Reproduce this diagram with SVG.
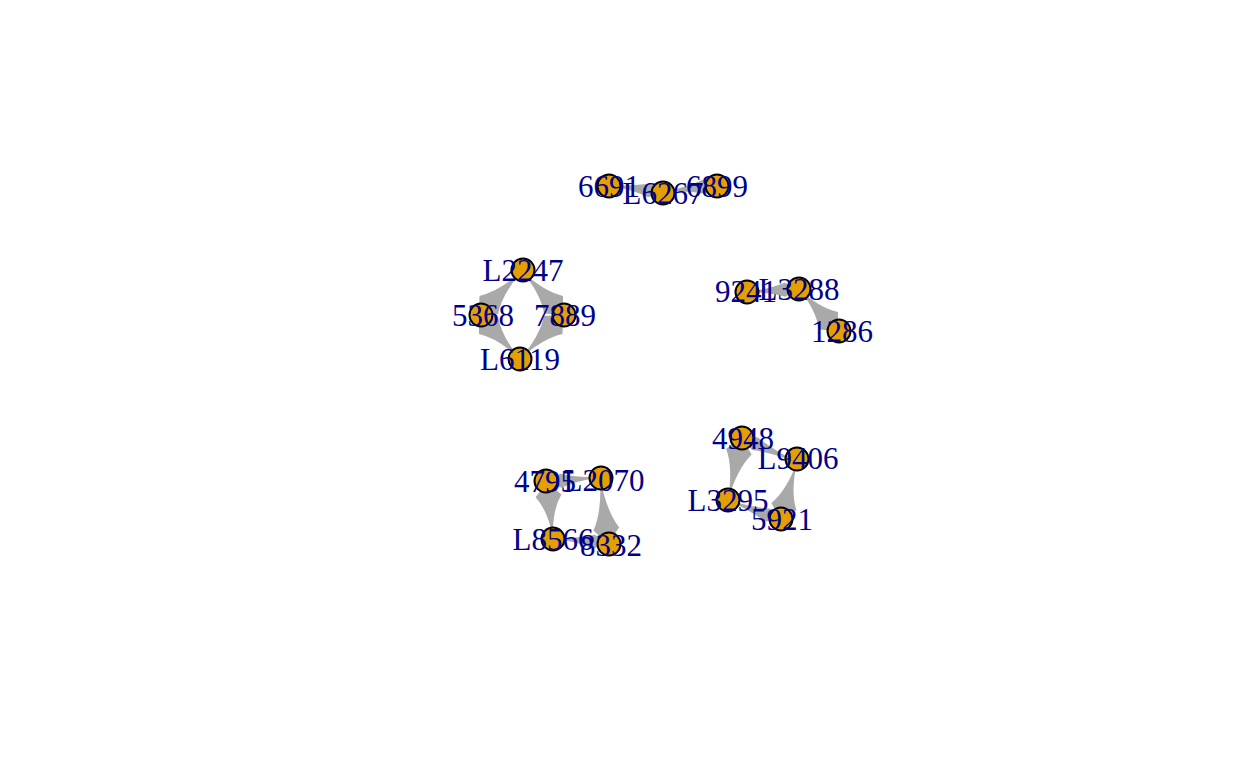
<svg xmlns="http://www.w3.org/2000/svg" width="1248" height="768" viewBox="0 0 1248 768">
<style>
.e{fill:#A9A9A9;stroke:none}
.n circle{fill:#E69F00;stroke:#000;stroke-width:2}
.n text{font-family:"Liberation Serif","Times New Roman",serif;font-size:31px;fill:#00008B;text-anchor:middle}
</style>
<rect width="1248" height="768" fill="#fff"/>
<g id="edges">
<path class="e" d="M608,185 Q634.5,190.4 648.2,197.2 L663,192 L650,183.3 Q635,186.4 608,185Z"/>
<path class="e" d="M663,192 Q689.3,190.6 704,193.7 L717,185 L702.2,179.9 Q688.8,186.6 663,192Z"/>
<path class="e" d="M522,271 Q499,291.7 479.5,295.9 L479,315 L498.1,314.1 Q501.8,294.5 522,271Z"/>
<path class="e" d="M520,359 Q501,335.7 498.1,316.4 L479,315 L479,334.1 Q498.1,338.4 520,359Z"/>
<path class="e" d="M522,271 Q541,294.3 544,313.6 L563,315 L563,295.9 Q543.9,291.6 522,271Z"/>
<path class="e" d="M520,359 Q543,338.3 562.5,334.1 L563,315 L543.9,315.9 Q540.2,335.5 520,359Z"/>
<path class="e" d="M747,292 Q771.8,292.6 785.4,296.8 L799,289 L784.6,282.8 Q771.6,288.6 747,292Z"/>
<path class="e" d="M799,289 Q816.7,311 818.9,329.6 L838,331 L838,311.9 Q819.6,308.3 799,289Z"/>
<path class="e" d="M553,538 Q552.1,510.4 561.4,494.5 L547,482 L535.6,497.3 Q548.1,510.9 553,538Z"/>
<path class="e" d="M600,477 Q602.1,511.1 593.4,530.7 L608,543 L619.2,527.5 Q606.1,510.6 600,477Z"/>
<path class="e" d="M600,477 Q574.4,477.4 560.3,473.7 L547,482 L561.6,487.7 Q574.8,481.4 600,477Z"/>
<path class="e" d="M553,538 Q579.5,542.4 593.4,548.7 L608,543 L594.7,534.8 Q579.9,538.4 553,538Z"/>
<path class="e" d="M728,500 Q737.1,469 751.6,454.5 L742,438 L726.2,448.8 Q733.2,468.1 728,500Z"/>
<path class="e" d="M797,462 Q786.6,490.4 771.5,502.9 L780,520 L796.4,510.2 Q790.4,491.5 797,462Z"/>
<path class="e" d="M797,462 Q770.4,448.2 757.6,437.2 L742,438 L752,450 Q768.8,451.9 797,462Z"/>
<path class="e" d="M728,500 Q752.6,511.6 764.4,521.5 L780,520 L769.4,508.4 Q754,507.9 728,500Z"/>
</g>
<g id="n6691" class="n"><circle cx="609" cy="186" r="11.5"/><text x="609" y="197">6691</text></g>
<g id="nL6267" class="n"><circle cx="663" cy="193" r="11.5"/><text x="663" y="204">L6267</text></g>
<g id="n6899" class="n"><circle cx="717" cy="186" r="11.5"/><text x="717" y="197">6899</text></g>
<g id="nL2247" class="n"><circle cx="523" cy="270" r="11.5"/><text x="523" y="281">L2247</text></g>
<g id="n5368" class="n"><circle cx="481" cy="315" r="11.5"/><text x="483" y="326">5368</text></g>
<g id="n7889" class="n"><circle cx="564" cy="315" r="11.5"/><text x="565" y="326">7889</text></g>
<g id="nL6119" class="n"><circle cx="520" cy="359" r="11.5"/><text x="520" y="370">L6119</text></g>
<g id="n9241" class="n"><circle cx="747" cy="292" r="11.5"/><text x="746" y="302">9241</text></g>
<g id="nL3288" class="n"><circle cx="799" cy="289" r="11.5"/><text x="799" y="300">L3288</text></g>
<g id="n1286" class="n"><circle cx="839" cy="331" r="11.5"/><text x="842" y="342">1286</text></g>
<g id="n4795" class="n"><circle cx="546" cy="481" r="11.5"/><text x="545" y="492">4795</text></g>
<g id="nL2070" class="n"><circle cx="601" cy="478" r="11.5"/><text x="604" y="491">L2070</text></g>
<g id="nL8566" class="n"><circle cx="553" cy="539" r="11.5"/><text x="553" y="550">L8566</text></g>
<g id="n8332" class="n"><circle cx="609" cy="544" r="11.5"/><text x="611" y="556">8332</text></g>
<g id="n4948" class="n"><circle cx="742" cy="438" r="11.5"/><text x="743" y="449">4948</text></g>
<g id="nL9406" class="n"><circle cx="797" cy="459" r="11.5"/><text x="798" y="469">L9406</text></g>
<g id="nL3295" class="n"><circle cx="728" cy="500" r="11.5"/><text x="728" y="511">L3295</text></g>
<g id="n5921" class="n"><circle cx="781" cy="519" r="11.5"/><text x="782" y="530">5921</text></g>
</svg>
